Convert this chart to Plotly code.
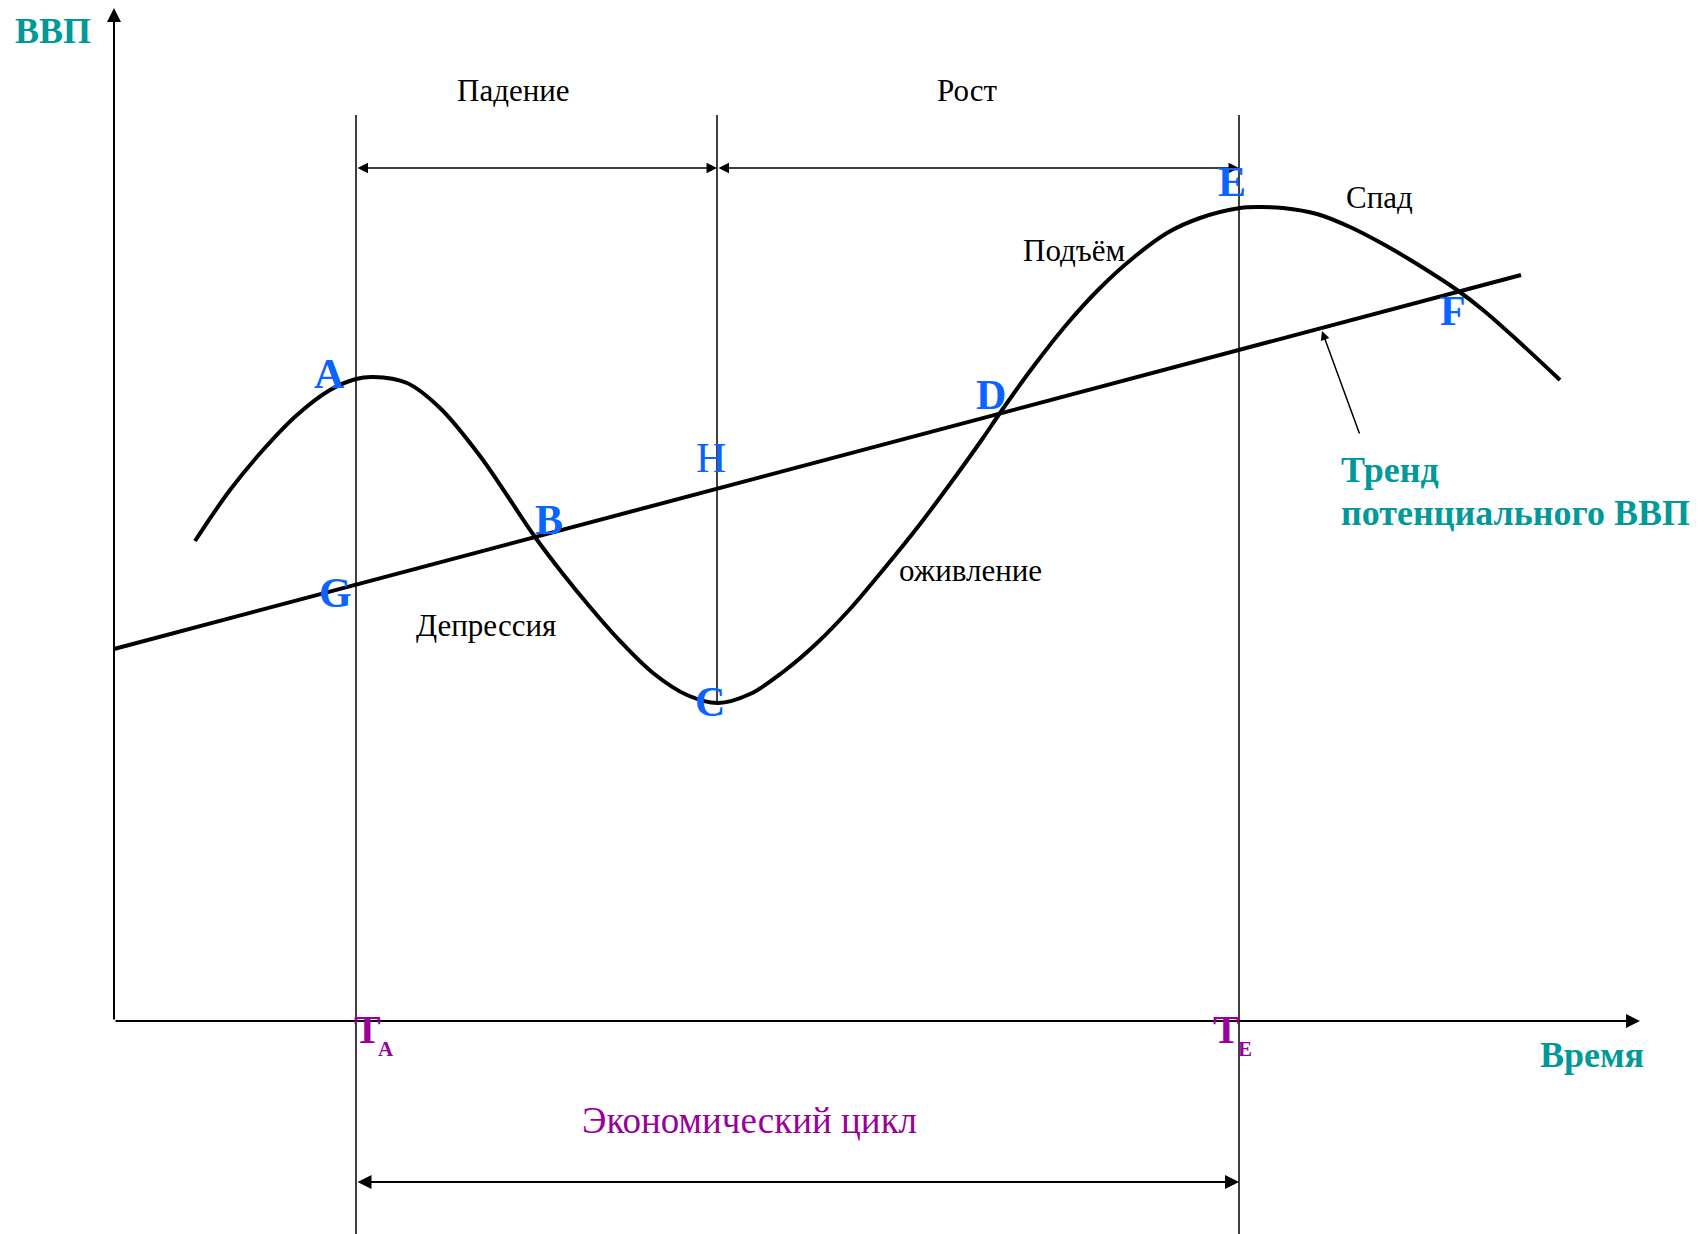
import plotly.graph_objects as go

# business cycle curve (pixel units, y grows downward)
curve_x = [195, 230, 263, 297, 330, 356, 373, 407, 440, 480, 535, 563, 590, 620, 653,
           687, 718, 750, 783, 817, 850, 883, 917, 950, 983, 1000, 1033, 1067, 1100,
           1133, 1167, 1200, 1240, 1260, 1283, 1317, 1350, 1383, 1417, 1457, 1483,
           1517, 1560]
curve_y = [541, 490, 450, 415, 390, 379, 377, 383, 408, 456, 537, 574, 607, 641, 673,
           695, 703, 694, 672, 643, 609, 570, 528, 484, 438, 413, 367, 324, 288,
           258, 233, 218, 208, 207, 208, 214, 227, 244, 264, 290, 310,
           340, 380]

# potential GDP trend
trend_x = [114, 1521]
trend_y = [649, 275]

# axes
origin = (114, 1021)
x_axis_end = 1640
y_axis_end = 8

# vertical boundaries T_A, H (C), T_E
bound_x = [356, 717, 1239]
bound_top = [115, 115, 115]
bound_bottom = [1234, 702, 1234]

# phase arrows
phase_y = 168
phase_names = ['Падение', 'Рост']
phase_label_x = [513, 967]
phase_label_y = [90, 90]

stage_names = ['Депрессия', 'оживление', 'Подъём', 'Спад']
stage_x = [486, 970, 1074, 1379]
stage_y = [625, 570, 250, 197]

point_names = ['A', 'B', 'C', 'D', 'E', 'F', 'G', 'H']
point_x = [329, 549, 710, 991, 1232, 1453, 335, 711]
point_y = [374, 520, 702, 395, 182, 311, 593, 458]
point_bold = [True, True, True, True, True, True, True, False]

cycle_y = 1182
cycle_label = 'Экономический цикл'

BLUE = '#0a64ff'
TEAL = '#009999'
MAGENTA = '#990099'
SERIF = 'Liberation Serif, Times New Roman, serif'

# the page body keeps its default 8px margin, so the plot is 8px smaller and offset
PAD = 8
W, H = 1707, 1234

fig = go.Figure()

# thin vertical boundaries
for bx, bt, bb in zip(bound_x, bound_top, bound_bottom):
    fig.add_trace(go.Scatter(x=[bx, bx], y=[bt, bb], mode='lines',
                             line=dict(color='black', width=1.5), hoverinfo='skip'))

fig.add_trace(go.Scatter(x=trend_x, y=trend_y, mode='lines',
                         line=dict(color='black', width=4), hoverinfo='skip'))
fig.add_trace(go.Scatter(x=curve_x, y=curve_y, mode='lines',
                         line=dict(color='black', width=4, shape='spline', smoothing=1.0),
                         hoverinfo='skip'))

def arrow(x0, y0, x1, y1, both=False, width=1.5, size=1.4):
    fig.add_annotation(x=x1, y=y1, ax=x0, ay=y0, xref='x', yref='y', axref='x', ayref='y',
                       text='', showarrow=True, arrowhead=2, arrowsize=size,
                       arrowwidth=width, arrowcolor='black',
                       arrowside='end+start' if both else 'end')

# axes with arrows
arrow(origin[0], origin[1], origin[0], y_axis_end, width=2)
arrow(origin[0], origin[1], x_axis_end, origin[1], width=2)

# phase arrows
arrow(bound_x[0], phase_y, bound_x[1], phase_y, both=True)
arrow(bound_x[1], phase_y, bound_x[2], phase_y, both=True)
# cycle arrow
arrow(bound_x[0], cycle_y, bound_x[2], cycle_y, both=True, width=2)
# pointer to trend line
arrow(1360, 435, 1322, 331, width=1.5, size=1.2)

def label(x, y, text, size, color='black', bold=False, xanchor='center'):
    fig.add_annotation(x=x, y=y, xref='x', yref='y', text=text, showarrow=False,
                       xanchor=xanchor, yanchor='middle',
                       font=dict(family=SERIF, size=size, color=color,
                                 weight='bold' if bold else 'normal'))

for n, x, y in zip(phase_names, phase_label_x, phase_label_y):
    label(x, y, n, 31)
for n, x, y in zip(stage_names, stage_x, stage_y):
    label(x, y, n, 31)
for n, x, y, b in zip(point_names, point_x, point_y, point_bold):
    label(x, y, n, 42, color=BLUE, bold=b)

label(53, 31, 'ВВП', 36, color=TEAL, bold=True)
label(1592, 1055, 'Время', 36, color=TEAL, bold=True)
label(1339, 470, 'Тренд', 36, color=TEAL, bold=True, xanchor='left')
label(1339, 513, 'потенциального ВВП', 36, color=TEAL, bold=True, xanchor='left')
label(749, 1120, cycle_label, 37, color=MAGENTA)

# T_A and T_E
label(367, 1029, 'T', 40, color=MAGENTA, bold=True)
label(386, 1049, 'A', 21, color=MAGENTA, bold=True)
label(1226, 1029, 'T', 40, color=MAGENTA, bold=True)
label(1245, 1049, 'E', 21, color=MAGENTA, bold=True)

fig.update_layout(
    width=W - PAD, height=H - PAD,
    margin=dict(l=0, r=0, t=0, b=0),
    paper_bgcolor='white', plot_bgcolor='white',
    showlegend=False,
    xaxis=dict(range=[PAD, W], visible=False, fixedrange=True),
    yaxis=dict(range=[H, PAD], visible=False, fixedrange=True),
)

fig.write_html('out.html')
